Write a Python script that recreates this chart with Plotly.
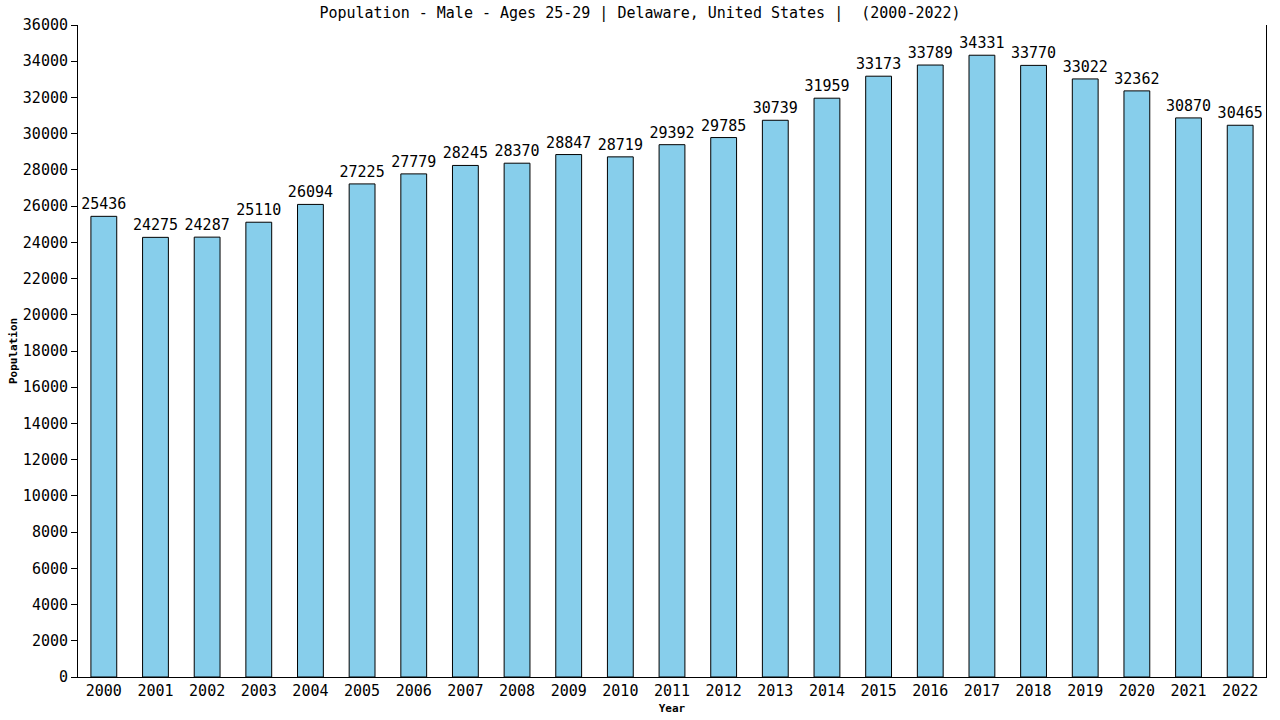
import plotly.graph_objects as go

years = [str(y) for y in range(2000, 2023)]
values = [25436, 24275, 24287, 25110, 26094, 27225, 27779, 28245, 28370, 28847,
          28719, 29392, 29785, 30739, 31959, 33173, 33789, 34331, 33770, 33022,
          32362, 30870, 30465]

FONT = "DejaVu Sans Mono"

fig = go.Figure(go.Bar(
    x=years, y=values,
    marker=dict(color="#87CEEB", line=dict(color="black", width=1)),
    text=[str(v) for v in values], textposition="outside",
    textfont=dict(family=FONT, size=15, color="black"),
    constraintext="none",
    cliponaxis=False,
))

fig.update_layout(
    width=1280, height=720,
    margin=dict(l=78, r=14, t=25, b=43, autoexpand=False),
    plot_bgcolor="white", paper_bgcolor="white",
    bargap=0.5,
    showlegend=False,
    title=dict(text="Population - Male - Ages 25-29 | Delaware, United States |  (2000-2022)",
               x=0.5, xanchor="center", y=0.982, yanchor="middle", yref="container",
               automargin=False,
               font=dict(family=FONT, size=15, color="black")),
    font=dict(family=FONT, size=15, color="black"),
)
fig.update_xaxes(
    showline=True, linecolor="black", linewidth=1, mirror=False,
    ticks="", showgrid=False, automargin=False,
    tickfont=dict(family=FONT, size=15, color="black"),
    title=dict(text="Year", font=dict(family=FONT, size=11, color="black", weight="bold"), standoff=5),
)
fig.update_yaxes(
    range=[0, 36000], dtick=2000, tickformat="d",
    showline=True, linecolor="black", linewidth=1, mirror=True,
    ticks="outside", ticklen=6, tickcolor="black", showgrid=False, zeroline=False,
    automargin=False,
    tickfont=dict(family=FONT, size=15, color="black"),
    title=dict(text="Population", font=dict(family=FONT, size=11, color="black", weight="bold"), standoff=2),
)

fig.write_html("out.html", config={"displayModeBar": False},
               post_script="document.body.style.margin='0';document.body.style.overflow='hidden';")
